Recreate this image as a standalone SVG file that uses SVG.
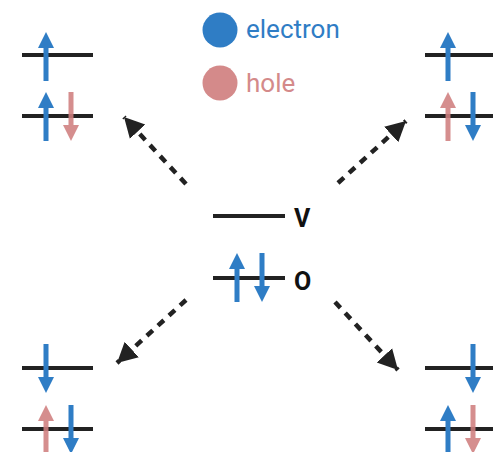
<svg xmlns="http://www.w3.org/2000/svg" width="493" height="452" viewBox="0 0 493 452">
<style>
.lvl{stroke:#222;stroke-width:4;fill:none}
.e{fill:#2f7dc5}
.h{fill:#cf7e7e;fill-opacity:0.88}
.conn{stroke:#222;stroke-width:4.5;stroke-dasharray:8 7;fill:none;marker-end:url(#ah)}
.lbl{font-family:Roboto,"Liberation Sans",sans-serif;font-weight:bold;font-size:25px;fill:#111}
.leg{font-family:Roboto,"Liberation Sans",sans-serif;font-size:26px}
</style>
<defs>
<path id="up" d="M0,0 L8,16 L2.5,16 L2.5,49 L-2.5,49 L-2.5,16 L-8,16 Z"/>
<path id="dn" d="M0,49 L8,33 L2.5,33 L2.5,0 L-2.5,0 L-2.5,33 L-8,33 Z"/>
<marker id="ah" markerUnits="userSpaceOnUse" markerWidth="26" markerHeight="26" refX="20" refY="0" viewBox="0 -13 26 26" orient="auto">
<path d="M0,-10.5 L20,0 L0,10.5 Z" fill="#222"/>
</marker>
</defs>
<g id="legend">
<circle cx="220" cy="30" r="17.5" class="e"/>
<text x="246" y="38" class="leg" fill="#2f7dc5">electron</text>
<circle cx="220" cy="83" r="17.5" fill="#d48a8a"/>
<text x="246" y="92" class="leg" fill="#d48a8a">hole</text>
</g>
<g id="center">
<line x1="213" y1="216" x2="285" y2="216" class="lvl"/>
<line x1="213" y1="278" x2="285" y2="278" class="lvl"/>
<use href="#up" x="237" y="253" class="e"/>
<use href="#dn" x="262" y="253" class="e"/>
<text x="294" y="227" class="lbl">V</text>
<text x="294" y="290" class="lbl">O</text>
</g>
<g id="top-left">
<line x1="22" y1="55" x2="93" y2="55" class="lvl"/>
<line x1="22" y1="116" x2="93" y2="116" class="lvl"/>
<use href="#up" x="46" y="32" class="e"/>
<use href="#up" x="46" y="92" class="e"/>
<use href="#dn" x="71" y="92" class="h"/>
</g>
<g id="top-right">
<line x1="425" y1="55" x2="493" y2="55" class="lvl"/>
<line x1="425" y1="116" x2="493" y2="116" class="lvl"/>
<use href="#up" x="448" y="32" class="e"/>
<use href="#up" x="448" y="92" class="h"/>
<use href="#dn" x="473" y="92" class="e"/>
</g>
<g id="bottom-left">
<line x1="22" y1="368" x2="93" y2="368" class="lvl"/>
<line x1="22" y1="429" x2="93" y2="429" class="lvl"/>
<use href="#dn" x="46" y="344" class="e"/>
<use href="#up" x="46" y="405" class="h"/>
<use href="#dn" x="71" y="405" class="e"/>
</g>
<g id="bottom-right">
<line x1="425" y1="368" x2="493" y2="368" class="lvl"/>
<line x1="425" y1="429" x2="493" y2="429" class="lvl"/>
<use href="#dn" x="473" y="344" class="e"/>
<use href="#up" x="448" y="405" class="e"/>
<use href="#dn" x="473" y="405" class="h"/>
</g>
<g id="connectors">
<line x1="186" y1="184" x2="124" y2="117" class="conn"/>
<line x1="338" y1="183" x2="406" y2="121" class="conn"/>
<line x1="186" y1="300" x2="117" y2="363" class="conn"/>
<line x1="335" y1="302" x2="398" y2="370" class="conn"/>
</g>
</svg>
